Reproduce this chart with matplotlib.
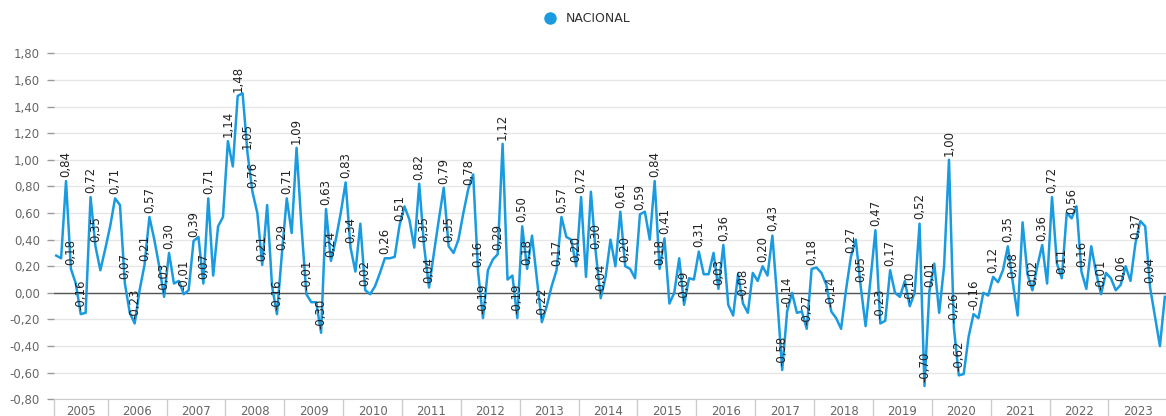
import matplotlib
matplotlib.use("Agg")
import matplotlib.pyplot as plt
from matplotlib.lines import Line2D
from matplotlib.ticker import FuncFormatter

# ── Data: monthly variation (%), Feb 2005 .. Dec 2023 ────────────────────────
YEARS = list(range(2005, 2024))
FIRST_YEAR_MONTHS = 11          # series starts in February 2005

NACIONAL = [
    # 2005 (Feb-Dec)
    0.28, 0.26, 0.84, 0.18, 0.07, -0.16, -0.15, 0.72, 0.35, 0.17, 0.33,
    # 2006
    0.50, 0.71, 0.66, 0.07, -0.15, -0.23, 0.02, 0.21, 0.57, 0.40, 0.20, -0.03,
    # 2007
    0.30, 0.07, 0.09, -0.01, 0.02, 0.39, 0.42, 0.07, 0.71, 0.13, 0.50, 0.57,
    # 2008
    1.14, 0.95, 1.48, 1.50, 1.05, 0.76, 0.60, 0.21, 0.66, 0.05, -0.16, 0.29,
    # 2009
    0.71, 0.45, 1.09, 0.50, -0.01, -0.07, -0.07, -0.30, 0.63, 0.24, 0.40, 0.60,
    # 2010
    0.83, 0.34, 0.16, 0.52, 0.02, -0.01, 0.05, 0.15, 0.26, 0.26, 0.27, 0.51,
    # 2011
    0.65, 0.55, 0.34, 0.82, 0.35, 0.04, 0.30, 0.55, 0.79, 0.35, 0.30, 0.40,
    # 2012
    0.60, 0.78, 0.89, 0.16, -0.19, 0.17, 0.25, 0.29, 1.12, 0.10, 0.13, -0.19,
    # 2013
    0.50, 0.18, 0.43, 0.10, -0.22, -0.10, 0.05, 0.17, 0.57, 0.42, 0.40, 0.20,
    # 2014
    0.72, 0.12, 0.76, 0.30, -0.04, 0.12, 0.40, 0.20, 0.61, 0.20, 0.18, 0.11,
    # 2015
    0.59, 0.61, 0.40, 0.84, 0.18, 0.41, -0.08, 0.00, 0.26, -0.09, 0.11, 0.10,
    # 2016
    0.31, 0.14, 0.14, 0.30, 0.03, 0.36, -0.09, -0.17, 0.14, -0.08, -0.15, 0.15,
    # 2017
    0.09, 0.20, 0.13, 0.43, -0.05, -0.58, -0.14, 0.00, -0.15, -0.14, -0.27, 0.18,
    # 2018
    0.19, 0.15, 0.06, -0.14, -0.19, -0.27, 0.02, 0.27, 0.40, 0.05, -0.25, 0.10,
    # 2019
    0.47, -0.23, -0.21, 0.17, 0.00, -0.03, 0.09, -0.10, 0.00, 0.52, -0.70, 0.01,
    # 2020
    0.22, -0.15, 0.20, 1.00, -0.26, -0.62, -0.61, -0.33, -0.16, -0.19, 0.00, -0.02,
    # 2021
    0.12, 0.08, 0.17, 0.35, 0.08, -0.17, 0.53, 0.14, 0.02, 0.20, 0.36, 0.07,
    # 2022
    0.72, 0.22, 0.11, 0.60, 0.56, 0.65, 0.16, 0.03, 0.35, 0.15, -0.01, 0.15,
    # 2023
    0.11, 0.02, 0.06, 0.20, 0.09, 0.37, 0.54, 0.50, 0.04, -0.18, -0.40, -0.03,
]

# months (index into NACIONAL) that carry a value label
LABELLED = [2, 3, 5, 7, 8, 12, 14, 16, 18, 19, 22, 23, 26, 28, 30, 31, 35, 37,
            39, 40, 42, 45, 46, 47, 49, 51, 54, 55, 56, 59, 60, 63, 67, 70, 74,
            75, 76, 79, 80, 84, 86, 87, 90, 91, 94, 95, 96, 99, 102, 103, 106,
            107, 110, 111, 115, 116, 119, 122, 123, 124, 128, 131, 135, 136,
            140, 144, 146, 148, 149, 153, 154, 158, 162, 164, 167, 168, 170,
            174, 176, 177, 178, 182, 183, 184, 187, 191, 194, 195, 199, 201,
            203, 205, 207, 209, 213, 217, 220, 223]

BLUE = "#1a9be0"


def fmt(v):
    return f"{v:.2f}".replace(".", ",")


fig = plt.figure(figsize=(11.66, 4.16), dpi=100)
ax = fig.add_axes([0.0461, 0.0401, 0.955, 0.8317])

x = list(range(len(NACIONAL)))
ax.plot(x, NACIONAL, color=BLUE, lw=1.8, solid_joinstyle="round", zorder=3)
ax.axhline(0, color="#555555", lw=1, zorder=2)

for i in LABELLED:
    v = NACIONAL[i]
    ax.annotate(fmt(v), (i, v), xytext=(0, 3), textcoords="offset points",
                rotation=90, ha="center", va="bottom", fontsize=8.5,
                color="#222222", annotation_clip=False, zorder=4)

# ── y axis ────────────────────────────────────────────────────────────────────
ax.set_ylim(-0.8, 1.8)
ax.set_yticks([round(k * 0.2, 1) for k in range(-4, 10)])
ax.yaxis.set_major_formatter(FuncFormatter(lambda v, _: fmt(v)))
ax.grid(axis="y", color="#e6e6e6", lw=1)
ax.set_axisbelow(True)
ax.tick_params(axis="y", length=5, width=1, color="#999999",
               labelcolor="#666666", labelsize=8.5, pad=5)

# ── x axis: year groups ───────────────────────────────────────────────────────
n = len(NACIONAL)
ax.set_xlim(-0.5, n - 0.5)
bounds = [-0.5] + [FIRST_YEAR_MONTHS - 0.5 + 12 * k for k in range(len(YEARS) - 1)]
centers = [(FIRST_YEAR_MONTHS - 1) / 2] + \
          [FIRST_YEAR_MONTHS + 12 * k + 5.5 for k in range(len(YEARS) - 1)]
ax.set_xticks(centers)
ax.set_xticklabels([str(y) for y in YEARS])
ax.set_xticks(bounds, minor=True)
ax.tick_params(axis="x", which="major", length=0, pad=4,
               labelcolor="#666666", labelsize=8.5)
ax.tick_params(axis="x", which="minor", length=12.5, width=1, color="#cccccc")

for s in ("top", "right", "left"):
    ax.spines[s].set_visible(False)
ax.spines["bottom"].set_color("#cccccc")

# ── legend ────────────────────────────────────────────────────────────────────
handle = Line2D([], [], marker="o", ls="", color=BLUE, markersize=8)
fig.legend([handle], ["NACIONAL"], loc="center", frameon=False,
           bbox_to_anchor=(584 / 1166, 1 - 19 / 416), fontsize=9,
           labelcolor="#333333", handletextpad=0.3)

fig.savefig("out.png", dpi=100)
